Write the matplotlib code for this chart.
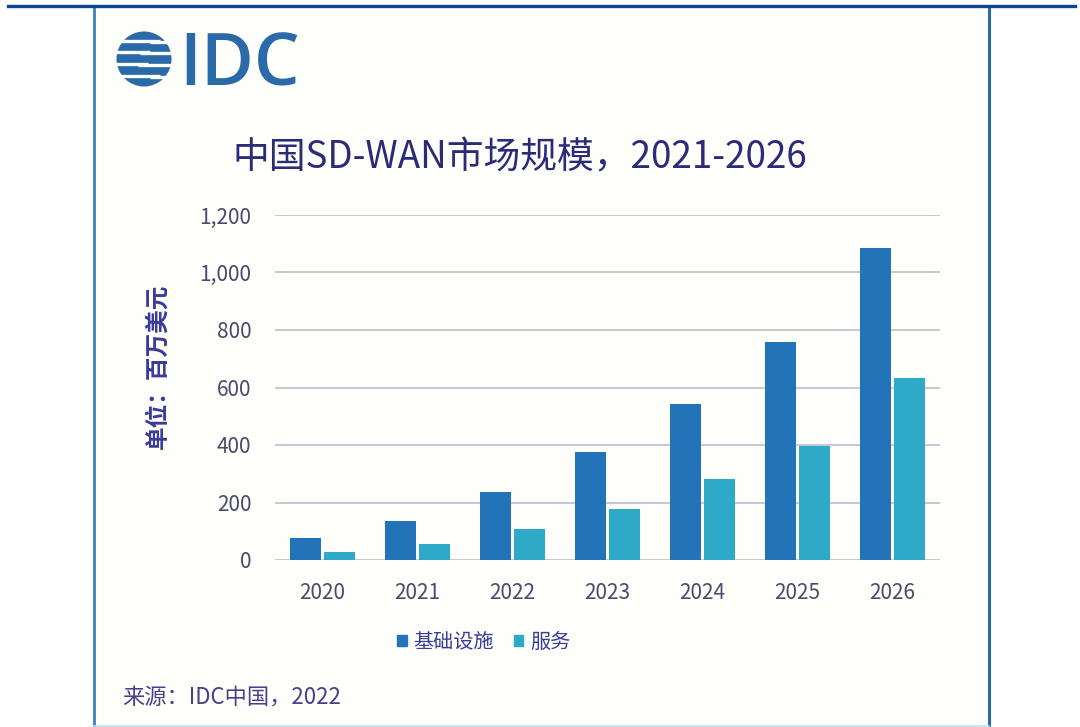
import matplotlib
matplotlib.use("Agg")
import matplotlib.pyplot as plt
from matplotlib.patches import Rectangle, Circle
from matplotlib.lines import Line2D
import numpy as np

plt.rcParams['font.family'] = ['Noto Sans CJK SC', 'DejaVu Sans']

years = ["2020", "2021", "2022", "2023", "2024", "2025", "2026"]
infrastructure = [76, 137, 237, 377, 543, 757, 1084]
services = [28, 56, 108, 177, 281, 396, 633]
series_names = ["基础设施", "服务"]
y_ticks = [0, 200, 400, 600, 800, 1000, 1200]
title = "中国SD-WAN市场规模，2021-2026"
y_label = "单位：百万美元"
source = "来源：IDC中国，2022"

W, H = 1080, 727
fig = plt.figure(figsize=(W / 100, H / 100), dpi=100)
fig.patch.set_facecolor("white")


def fx(x):
    return x / W


def fy(y):
    return 1 - y / H


# panel background and borders
fig.add_artist(Rectangle((fx(94), fy(727)), fx(989) - fx(94), fy(8) - fy(727),
                         transform=fig.transFigure, facecolor="#fefefb",
                         edgecolor="none", zorder=0))
fig.add_artist(Line2D([fx(94), fx(94)], [fy(8), fy(727)], transform=fig.transFigure,
                      color="#3f80c0", lw=2.0, zorder=1))
fig.add_artist(Line2D([fx(989), fx(989)], [fy(8), fy(727)], transform=fig.transFigure,
                      color="#2c69a5", lw=2.2, zorder=1))
fig.add_artist(Line2D([fx(94), fx(989)], [fy(725.5), fy(725.5)], transform=fig.transFigure,
                      color="#bfe3f0", lw=1.2, zorder=1))
# top blue rule
fig.add_artist(Line2D([fx(8), fx(1075)], [fy(6), fy(6)], transform=fig.transFigure,
                      color="#0b4597", lw=2.4, zorder=2))

# IDC logo
logo_blue = "#2a6aa8"
cx, cy, r = 144, 59, 27.5
lax = fig.add_axes([fx(110), fy(90), fx(180) - fx(110), fy(28) - fy(90)])
lax.set_xlim(110, 180)
lax.set_ylim(90, 28)
lax.set_aspect("equal")
lax.axis("off")
globe = Circle((cx, cy), r, facecolor=logo_blue, edgecolor="none")
lax.add_patch(globe)
gaps = [(41.0, 112, 160), (42.0, 150, 176), (52.0, 112, 150), (53.2, 140, 176),
        (63.5, 112, 148), (64.7, 138, 176), (75.5, 112, 160), (76.7, 150, 176)]
for gy, x0, x1 in gaps:
    lax.plot([x0, x1], [gy, gy], color="#fefefb", lw=2.4, solid_capstyle="butt")
fig.text(fx(179), fy(86), "IDC", fontsize=52, color=logo_blue,
         family="Open Sans", fontweight="semibold", ha="left", va="baseline")

# title
fig.text(fx(233), fy(158), title, fontsize=26.5, color="#2b2b78", ha="left", va="center")

# main axes
ax = fig.add_axes([fx(275), fy(560), fx(940) - fx(275), fy(215) - fy(560)])
ax.set_facecolor("none")
x = np.arange(len(years))
bw = 0.33
off = 0.182
c1, c2 = "#2373b9", "#2eaac8"
ax.bar(x - off, infrastructure, bw, color=c1, zorder=3, label=series_names[0])
ax.bar(x + off, services, bw, color=c2, zorder=3, label=series_names[1])
ax.set_xlim(-0.5, len(years) - 0.5)
ax.set_ylim(0, 1200)
ax.set_yticks(y_ticks)
ax.set_yticklabels([f"{v:,}" for v in y_ticks])
ax.set_xticks(x)
ax.set_xticklabels(years)
ax.grid(axis="y", color="#c6c6d8", lw=1.4, zorder=0)
for s in ax.spines.values():
    s.set_visible(False)
ax.tick_params(axis="both", length=0, labelsize=15, labelcolor="#4a4a6c")
ax.tick_params(axis="y", pad=17)
ax.tick_params(axis="x", pad=16)
ax.set_axisbelow(True)

fig.text(fx(158), fy(366), y_label, rotation=90, fontsize=17, color="#3b3b98",
         ha="center", va="center", fontweight="bold")

# legend
leg = fig.legend(handles=[Rectangle((0, 0), 1, 1, color=c1), Rectangle((0, 0), 1, 1, color=c2)],
                 labels=series_names, loc="center", bbox_to_anchor=(fx(484), fy(642)),
                 ncol=2, frameon=False, fontsize=14.5, handlelength=0.45, handleheight=0.45,
                 handletextpad=0.35, columnspacing=1.0)
for t in leg.get_texts():
    t.set_color("#3b3b98")

fig.text(fx(122), fy(697), source, fontsize=16, color="#4a3f8c", ha="left", va="center")

fig.savefig("out.png", dpi=100, facecolor="white")
